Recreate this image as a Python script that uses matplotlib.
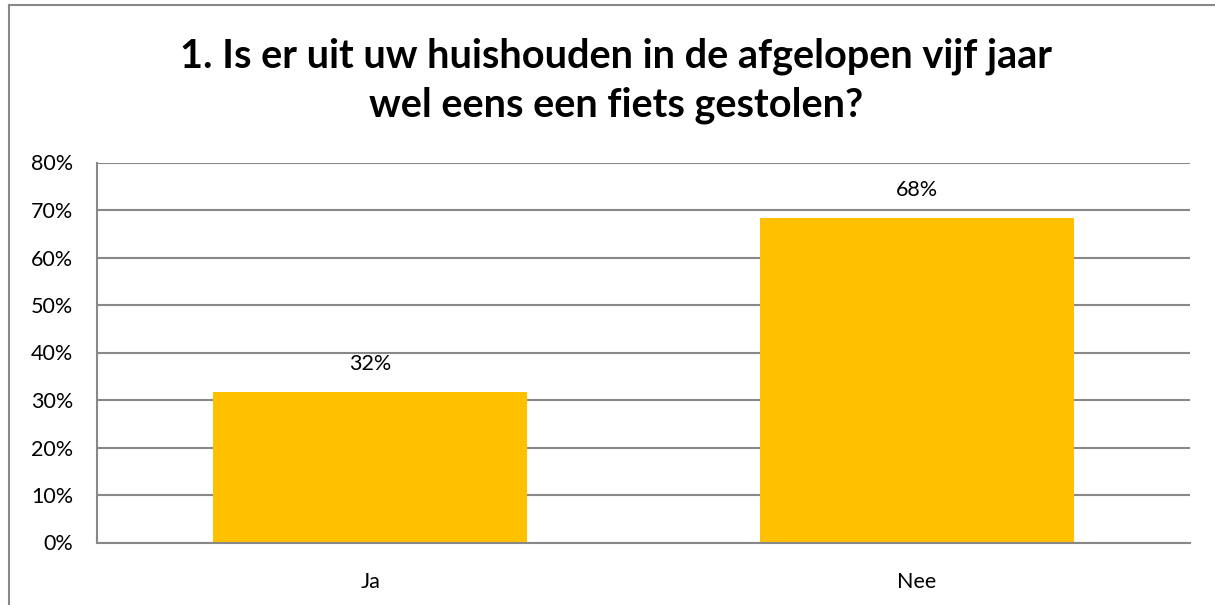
import matplotlib
matplotlib.use("Agg")
import matplotlib.pyplot as plt
from matplotlib.lines import Line2D
from matplotlib.ticker import FuncFormatter

categories = ["Ja", "Nee"]
values = [0.316, 0.684]
labels = ["32%", "68%"]
yticks = [0, 0.1, 0.2, 0.3, 0.4, 0.5, 0.6, 0.7, 0.8]

plt.rcParams['font.family'] = ['Lato', 'DejaVu Sans']
grid_col = "#888888"

fig = plt.figure(figsize=(12.15, 6.05), dpi=100)
ax = fig.add_axes([97/1215, 1 - 542.5/605, (1190-97)/1215, (542.5-162.5)/605])

x = range(len(categories))
ax.bar(x, values, width=0.575, color="#FFC000", zorder=3)
for xi, v, lab in zip(x, values, labels):
    ax.annotate(lab, (xi, v), xytext=(0, 13), textcoords="offset points",
                ha="center", va="bottom", fontsize=15.5, color="#000000")

ax.set_xlim(-0.5, 1.5)
ax.set_ylim(0, 0.8)
ax.set_yticks(yticks)
ax.yaxis.set_major_formatter(FuncFormatter(lambda v, p: f"{v*100:.0f}%"))
ax.set_xticks(list(x))
ax.set_xticklabels(categories)
ax.tick_params(axis="y", length=0, pad=17, labelsize=15.5, labelcolor="#000000")
ax.tick_params(axis="x", length=0, pad=21, labelsize=15.5, labelcolor="#000000")
ax.grid(axis="y", color=grid_col, linewidth=1.5, zorder=0)
for s in ["top", "right"]:
    ax.spines[s].set_visible(False)
for s in ["left", "bottom"]:
    ax.spines[s].set_color(grid_col)
    ax.spines[s].set_linewidth(1.5)
    ax.spines[s].set_zorder(4)

fig.text(0.507, 1 - 81/605, "1. Is er uit uw huishouden in de afgelopen vijf jaar\nwel eens een fiets gestolen?",
         ha="center", va="center", fontsize=28.5, fontweight="bold", linespacing=1.38)

# chart frame (left and top edges visible)
fig.add_artist(Line2D([9/1215, 9/1215], [0, 1 - 4.5/605], transform=fig.transFigure, color=grid_col, linewidth=1.5))
fig.add_artist(Line2D([9/1215, 1], [1 - 4.5/605, 1 - 4.5/605], transform=fig.transFigure, color=grid_col, linewidth=1.5))

fig.savefig("out.png", dpi=100)
